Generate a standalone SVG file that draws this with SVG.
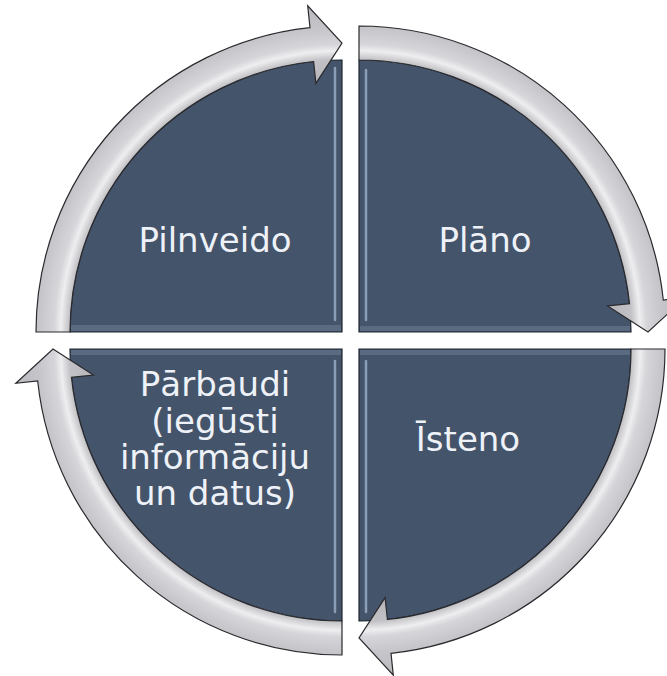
<svg xmlns="http://www.w3.org/2000/svg" width="667" height="676" viewBox="0 0 667 676">
<defs>
<radialGradient id="ringGrad" gradientUnits="userSpaceOnUse" cx="0" cy="0" r="330">
<stop offset="0.75" stop-color="#b4b4b8"/>
<stop offset="0.826" stop-color="#c2c2c6"/>
<stop offset="0.852" stop-color="#eeeef0"/>
<stop offset="0.872" stop-color="#d6d6da"/>
<stop offset="0.92" stop-color="#c6c6ca"/>
<stop offset="1" stop-color="#b8b8bc"/>
</radialGradient>
<path id="quad" d="M0,0 L0,-272 A272,272 0 0 1 272,0 Z"/>
<path id="ring" d="M0,-272 L0,-306 A306,306 0 0 1 304.3,-32 L326.2,-34.3 L289,0 L248.6,-26.1 L270.5,-28.4 A272,272 0 0 0 0,-272 Z"/>
</defs>
<style>
.q{fill:#44546a;stroke:#1e2630;stroke-width:1.2}
.r{fill:url(#ringGrad);stroke:#2a2a2e;stroke-width:1.2;stroke-linejoin:miter}
.hl{stroke:#a9bdd8;stroke-width:2.5;stroke-linecap:round;fill:none;opacity:0.7}
.band{fill:#6f7f96;opacity:0.5}
.t{font-family:"DejaVu Sans",Verdana,sans-serif;font-size:34px;fill:#eef2f8;text-anchor:middle}
</style>
<rect width="667" height="676" fill="#ffffff"/>
<g id="node-planot">
<g transform="translate(359,332)">
<use href="#quad" class="q"/>
<rect class="band" x="1" y="-6" width="270" height="5"/>
<line class="hl" x1="7" y1="-12" x2="7" y2="-262"/>
<use href="#ring" class="r"/>
</g>
<text class="t" x="485" y="252">Plāno</text>
</g>
<g id="node-isteno">
<g transform="translate(359,349) rotate(90)">
<use href="#quad" class="q"/>
<use href="#ring" class="r"/>
</g>
<rect class="band" x="360" y="350" width="270" height="5"/>
<line class="hl" x1="366" y1="361" x2="366" y2="612"/>
<text class="t" x="468" y="451">Īsteno</text>
</g>
<g id="node-parbaudi">
<g transform="translate(342,349) rotate(180)">
<use href="#quad" class="q"/>
<use href="#ring" class="r"/>
</g>
<rect class="band" x="71" y="350" width="270" height="5"/>
<line class="hl" x1="335" y1="361" x2="335" y2="612"/>
<text class="t" x="215" y="396">Pārbaudi</text>
<text class="t" x="215" y="433">(iegūsti</text>
<text class="t" x="215" y="469">informāciju</text>
<text class="t" x="215" y="505">un datus)</text>
</g>
<g id="node-pilnveido">
<g transform="translate(342,332) rotate(270)">
<use href="#quad" class="q"/>
<use href="#ring" class="r"/>
</g>
<rect class="band" x="71" y="325" width="270" height="6"/>
<line class="hl" x1="335" y1="320" x2="335" y2="68"/>
<text class="t" x="215" y="252">Pilnveido</text>
</g>
<g id="connectors"></g>
</svg>
